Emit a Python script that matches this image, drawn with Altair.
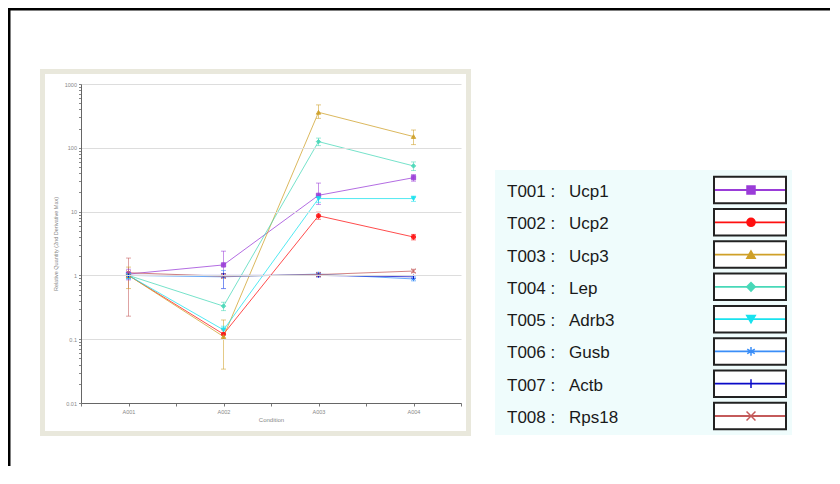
import altair as alt
import pandas as pd

categories = ["A001", "A002", "A003", "A004"]
targets = ["T001", "T002", "T003", "T004", "T005", "T006", "T007", "T008"]
genes = ["Ucp1", "Ucp2", "Ucp3", "Lep", "Adrb3", "Gusb", "Actb", "Rps18"]
colors = ["#9a3cd8", "#ff1010", "#cfa028", "#48d8b8", "#18e2ee", "#3a8ef8", "#0a0ac8", "#c45a5a"]
shapes = ["square", "circle", "triangle-up", "diamond", "triangle-down",
          "M0,-1L0,1M-0.87,-0.5L0.87,0.5M-0.87,0.5L0.87,-0.5",
          "M0,-1L0,1",
          "M-1,-1L1,1M-1,1L1,-1"]

values = {
    "Ucp1": [1.05, 1.46, 18, 34],
    "Ucp2": [1.0, 0.12, 8.6, 4.0],
    "Ucp3": [1.0, 0.11, 360, 150],
    "Lep": [1.0, 0.33, 125, 52],
    "Adrb3": [1.0, 0.14, 16, 16],
    "Gusb": [1.0, 0.95, 1.05, 0.88],
    "Actb": [1.0, 1.0, 1.0, 0.95],
    "Rps18": [1.1, 0.97, 1.03, 1.17],
}
low = {
    "Ucp1": [0.85, 0.62, 13, 30],
    "Ucp2": [0.92, 0.10, 7.6, 3.6],
    "Ucp3": [0.62, 0.034, 290, 112],
    "Lep": [0.9, 0.28, 108, 44],
    "Adrb3": [0.9, 0.12, 14, 14.5],
    "Gusb": [0.88, 0.62, 0.95, 0.82],
    "Actb": [0.96, 0.93, 0.95, 0.9],
    "Rps18": [0.23, 0.9, 0.97, 1.1],
}
high = {
    "Ucp1": [1.25, 2.4, 28, 38],
    "Ucp2": [1.08, 0.14, 9.8, 4.4],
    "Ucp3": [1.35, 0.2, 470, 190],
    "Lep": [1.1, 0.38, 142, 60],
    "Adrb3": [1.1, 0.16, 18, 17.5],
    "Gusb": [1.12, 1.2, 1.12, 0.95],
    "Actb": [1.04, 1.07, 1.06, 1.0],
    "Rps18": [1.87, 1.05, 1.1, 1.25],
}

main_sizes = [18, 20, 18, 12, 20, 30, 40, 18]
legend_sizes = [64, 80, 64, 30, 80, 100, 169, 49]

rows = []
for g in genes:
    for i, c in enumerate(categories):
        rows.append({"gene": g, "cat": c, "idx": i, "val": values[g][i],
                     "lo": low[g][i], "hi": high[g][i]})
df = pd.DataFrame(rows)

leg = pd.DataFrame({"gene": genes, "target": [t + " :" for t in targets],
                    "r": list(range(len(genes)))})
one = pd.DataFrame({"a": [0]})

W, H = 822, 458

# decorations
frame = alt.Chart(one).mark_rect(fill=None, stroke="#000000", strokeWidth=3).encode(
    x=alt.value(1), x2=alt.value(1000), y=alt.value(1), y2=alt.value(1000))
panel = alt.Chart(one).mark_rect(fill="#ffffff", stroke="#e9e8dc", strokeWidth=5).encode(
    x=alt.value(34.5), x2=alt.value(460.5), y=alt.value(63.5), y2=alt.value(425.5))
legbg = alt.Chart(one).mark_rect(fill="#effcfc").encode(
    x=alt.value(487), x2=alt.value(784), y=alt.value(162), y2=alt.value(427))

# main plot
lab_expr = "[" + ",".join("'" + c + "'" for c in categories) + "]"
decade = "abs(log(datum.value)/LN10 - round(log(datum.value)/LN10)) < 0.01"
yticks = []
for k in range(-2, 3):
    for m in range(1, 10):
        yticks.append(round(m * 10 ** k, 6))
yticks.append(1000)

x_axis = alt.Axis(values=[-0.5, 0, 0.5, 1, 1.5, 2, 2.5, 3, 3.5],
                  labelExpr="datum.value % 1 == 0 ? " + lab_expr + "[datum.value] : ''",
                  offset=-(H - 395), grid=False, zindex=1, title="Condition",
                  titleFontSize=6, titleFontWeight="normal", titleColor="#888888",
                  titlePadding=2, labelFontSize=5.5, labelColor="#888888",
                  domainColor="#666666", tickColor="#777777", tickSize=3, labelPadding=3)
y_axis = alt.Axis(values=yticks, format="~g",
                  labelExpr=decade + " ? datum.label : ''",
                  offset=-73, zindex=1, title="Relative Quantity (2nd Derivative Max)",
                  titleFontSize=5.5, titleFontWeight="normal", titleColor="#888888",
                  titlePadding=6, labelFontSize=5.5, labelColor="#888888",
                  domainColor="#666666", tickColor="#888888", tickSize=2.5, labelPadding=2,
                  gridColor="#dddddd",
                  gridOpacity={"condition": {"test": decade, "value": 1}, "value": 0})

xs = alt.Scale(domain=[-0.5, 3.5], range=[73, 453])
ys = alt.Scale(type="log", domain=[0.01, 1000], range=[395, 76])
cs = alt.Scale(domain=genes, range=colors)

X = alt.X("idx:Q", scale=xs, axis=x_axis)
Y = alt.Y("val:Q", scale=ys, axis=y_axis)

base = alt.Chart(df)
lines = base.mark_line(strokeWidth=1, opacity=0.75).encode(
    x=X, y=Y, color=alt.Color("gene:N", scale=cs, legend=None), order="idx:Q")
errs = base.mark_rule(strokeWidth=0.8, opacity=0.7).encode(
    x=X, y=alt.Y("lo:Q", scale=ys, axis=y_axis), y2="hi:Q",
    color=alt.Color("gene:N", scale=cs, legend=None))
cap_lo = base.mark_tick(orient="horizontal", size=5, thickness=0.8, opacity=0.7).encode(
    x=X, y=alt.Y("lo:Q", scale=ys, axis=y_axis), color=alt.Color("gene:N", scale=cs, legend=None))
cap_hi = base.mark_tick(orient="horizontal", size=5, thickness=0.8, opacity=0.7).encode(
    x=X, y=alt.Y("hi:Q", scale=ys, axis=y_axis), color=alt.Color("gene:N", scale=cs, legend=None))
pts = base.mark_point(filled=True, strokeWidth=1, opacity=0.9).encode(
    x=X, y=Y,
    fill=alt.Fill("gene:N", scale=cs, legend=None),
    stroke=alt.Stroke("gene:N", scale=cs, legend=None),
    shape=alt.Shape("gene:N", scale=alt.Scale(domain=genes, range=shapes), legend=None),
    size=alt.Size("gene:N", scale=alt.Scale(domain=genes, range=main_sizes), legend=None))
main = alt.layer(lines, errs, cap_lo, cap_hi, pts)

# legend
ly = alt.Scale(domain=[0, 7], range=[182, 408])
lb = alt.Chart(leg)
box = lb.transform_calculate(r0="datum.r - 0.41", r1="datum.r + 0.41").mark_rect(
    fill="#ffffff", stroke="#222222", strokeWidth=2).encode(
    x=alt.value(706), x2=alt.value(778),
    y=alt.Y("r0:Q", scale=ly, axis=None), y2="r1:Q")
sw = lb.mark_rule(strokeWidth=1.8).encode(
    x=alt.value(707), x2=alt.value(777), y=alt.Y("r:Q", scale=ly, axis=None),
    color=alt.Color("gene:N", scale=cs, legend=None))
mk = lb.mark_point(filled=True, strokeWidth=1.5, opacity=1).encode(
    x=alt.value(743), y=alt.Y("r:Q", scale=ly, axis=None),
    fill=alt.Fill("gene:N", scale=cs, legend=None),
    stroke=alt.Stroke("gene:N", scale=cs, legend=None),
    shape=alt.Shape("gene:N", scale=alt.Scale(domain=genes, range=shapes), legend=None),
    size=alt.Size("gene:N", scale=alt.Scale(domain=genes, range=legend_sizes), legend=None))
t1 = lb.mark_text(align="left", baseline="middle", fontSize=17, font="Liberation Sans",
                  color="#1a1a1a", dy=2).encode(
    x=alt.value(499), y=alt.Y("r:Q", scale=ly, axis=None), text="target:N")
t2 = lb.mark_text(align="left", baseline="middle", fontSize=17, font="Liberation Sans",
                  color="#1a1a1a", dy=2).encode(
    x=alt.value(561), y=alt.Y("r:Q", scale=ly, axis=None), text="gene:N")
legend = alt.layer(box, sw, mk, t1, t2)

chart = alt.layer(frame, panel, legbg, main, legend).resolve_scale(
    x="independent", y="independent", color="independent", fill="independent",
    stroke="independent", shape="independent", size="independent"
).properties(
    width=W, height=H, padding=0, autosize=alt.AutoSizeParams(type="none")
).configure_view(stroke=None).configure(background="#ffffff")

chart.save("out.html", embed_options={"renderer": "svg", "actions": False})
